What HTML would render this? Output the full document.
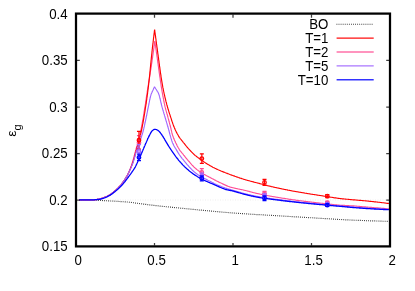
<!DOCTYPE html>
<html><head><meta charset="utf-8"><title>chart</title>
<style>html,body{margin:0;padding:0;background:#fff;}body{width:415px;height:291px;position:relative;overflow:hidden;font-family:"Liberation Sans",sans-serif;}</style></head>
<body>
<svg width="415" height="291" viewBox="0 0 415 291" style="position:absolute;left:0;top:0;will-change:transform;font-family:'Liberation Sans',sans-serif">
<rect width="415" height="291" fill="#fff"/>
<path d="M100,200 H388" stroke="#000" stroke-opacity="0.07" stroke-width="1" stroke-dasharray="1 1.5" fill="none"/>
<path d="M79.3,199.9 L80.8,199.9 L82.3,199.9 L83.8,199.9 L85.3,199.9 L86.8,199.9 L88.3,200.0 L89.8,200.0 L91.3,200.0 L92.8,200.0 L94.3,200.1 L95.8,200.2 L97.3,200.3 L98.8,200.4 L100.3,200.4 L101.8,200.5 L103.3,200.6 L104.8,200.7 L106.3,200.7 L107.8,200.8 L109.3,200.9 L110.8,201.0 L112.3,201.0 L113.8,201.1 L115.3,201.2 L116.8,201.3 L118.3,201.4 L119.8,201.5 L121.3,201.6 L122.8,201.7 L124.3,201.8 L125.7,201.9 L127.2,202.0 L128.7,202.1 L130.2,202.3 L131.7,202.5 L133.2,202.7 L134.7,202.9 L136.2,203.1 L137.7,203.3 L139.1,203.5 L140.6,203.7 L142.1,203.9 L143.6,204.1 L145.1,204.3 L146.6,204.5 L148.1,204.7 L149.6,204.9 L151.0,205.1 L152.5,205.2 L154.0,205.4 L155.5,205.6 L157.0,205.7 L158.5,205.9 L160.0,206.1 L161.5,206.2 L163.0,206.4 L164.5,206.5 L166.0,206.7 L167.5,206.8 L168.9,207.0 L170.4,207.1 L171.9,207.3 L173.4,207.4 L174.9,207.6 L176.4,207.7 L177.9,207.9 L179.4,208.0 L180.9,208.2 L182.4,208.3 L183.9,208.5 L185.4,208.6 L186.9,208.8 L188.3,208.9 L189.8,209.1 L191.3,209.2 L192.8,209.4 L194.3,209.5 L195.8,209.7 L197.3,209.8 L198.8,210.0 L200.3,210.1 L201.8,210.2 L203.3,210.4 L204.8,210.5 L206.3,210.7 L207.8,210.8 L209.3,210.9 L210.7,211.1 L212.2,211.2 L213.7,211.3 L215.2,211.5 L216.7,211.6 L218.2,211.7 L219.7,211.9 L221.2,212.0 L222.7,212.1 L224.2,212.3 L225.7,212.4 L227.2,212.5 L228.7,212.6 L230.2,212.8 L231.7,212.9 L233.2,213.0 L234.7,213.1 L236.2,213.2 L237.7,213.3 L239.1,213.4 L240.6,213.5 L242.1,213.6 L243.6,213.7 L245.1,213.8 L246.6,213.9 L248.1,214.0 L249.6,214.1 L251.1,214.2 L252.6,214.3 L254.1,214.4 L255.6,214.5 L257.1,214.6 L258.6,214.6 L260.1,214.7 L261.6,214.8 L263.1,214.9 L264.6,215.0 L266.1,215.1 L267.6,215.2 L269.1,215.2 L270.6,215.3 L272.1,215.4 L273.6,215.5 L275.1,215.6 L276.6,215.7 L278.1,215.8 L279.6,215.9 L281.1,216.0 L282.6,216.0 L284.1,216.1 L285.6,216.2 L287.1,216.3 L288.6,216.4 L290.1,216.5 L291.6,216.6 L293.0,216.7 L294.5,216.8 L296.0,216.8 L297.5,216.9 L299.0,217.0 L300.5,217.1 L302.0,217.2 L303.5,217.3 L305.0,217.4 L306.5,217.5 L308.0,217.6 L309.5,217.7 L311.0,217.7 L312.5,217.8 L314.0,217.9 L315.5,218.0 L317.0,218.1 L318.5,218.2 L320.0,218.3 L321.5,218.4 L323.0,218.5 L324.5,218.6 L326.0,218.6 L327.5,218.7 L329.0,218.8 L330.5,218.9 L332.0,219.0 L333.5,219.1 L335.0,219.2 L336.5,219.3 L338.0,219.4 L339.5,219.5 L341.0,219.5 L342.5,219.6 L344.0,219.7 L345.5,219.8 L347.0,219.8 L348.5,219.9 L350.0,220.0 L351.5,220.1 L352.9,220.1 L354.4,220.2 L355.9,220.2 L357.4,220.3 L358.9,220.4 L360.4,220.4 L361.9,220.5 L363.4,220.5 L364.9,220.6 L366.4,220.7 L367.9,220.7 L369.4,220.8 L370.9,220.8 L372.4,220.9 L373.9,220.9 L375.4,220.9 L376.9,221.0 L378.4,221.0 L379.9,221.1 L381.4,221.1 L382.9,221.2 L384.4,221.2 L385.9,221.2 L387.4,221.3 L388.5,221.3" stroke="#000" stroke-opacity="0.85" stroke-width="1.15" stroke-dasharray="0.85 1.22" fill="none"/>
<path d="M79.3,199.9 L79.9,199.9 L80.5,199.9 L81.1,199.9 L81.7,199.9 L82.3,199.9 L82.9,199.9 L83.5,199.9 L84.1,199.9 L84.7,199.9 L85.3,199.9 L85.9,199.9 L86.5,199.9 L87.1,199.9 L87.7,199.9 L88.3,199.9 L88.9,199.9 L89.5,199.9 L90.1,199.9 L90.7,199.9 L91.3,199.9 L91.9,199.8 L92.5,199.8 L93.1,199.8 L93.7,199.8 L94.3,199.7 L94.9,199.7 L95.5,199.6 L96.1,199.6 L96.7,199.5 L97.3,199.4 L97.9,199.3 L98.5,199.2 L99.1,199.1 L99.6,199.0 L100.2,198.8 L100.8,198.6 L101.4,198.4 L101.9,198.2 L102.5,198.0 L103.0,197.8 L103.6,197.6 L104.2,197.4 L104.7,197.2 L105.3,197.0 L105.9,196.8 L106.4,196.5 L107.0,196.3 L107.5,196.1 L108.1,195.8 L108.6,195.6 L109.1,195.3 L109.7,195.0 L110.2,194.7 L110.7,194.4 L111.1,194.0 L111.6,193.7 L112.1,193.3 L112.6,192.9 L113.1,192.5 L113.5,192.1 L114.0,191.7 L114.4,191.3 L114.9,191.0 L115.3,190.6 L115.8,190.2 L116.2,189.8 L116.7,189.4 L117.1,188.9 L117.6,188.5 L118.0,188.1 L118.4,187.7 L118.8,187.2 L119.3,186.8 L119.7,186.4 L120.1,185.9 L120.5,185.5 L120.9,185.0 L121.2,184.6 L121.6,184.1 L122.0,183.6 L122.3,183.1 L122.7,182.7 L123.0,182.2 L123.4,181.7 L123.7,181.2 L124.1,180.7 L124.4,180.2 L124.7,179.7 L125.1,179.2 L125.4,178.7 L125.7,178.2 L126.0,177.6 L126.3,177.1 L126.6,176.6 L126.9,176.1 L127.2,175.5 L127.5,175.0 L127.8,174.5 L128.0,174.0 L128.3,173.4 L128.5,172.9 L128.8,172.3 L129.0,171.8 L129.2,171.2 L129.5,170.7 L129.7,170.1 L129.9,169.5 L130.1,169.0 L130.3,168.4 L130.6,167.9 L130.8,167.3 L131.0,166.7 L131.2,166.2 L131.4,165.6 L131.6,165.0 L131.8,164.5 L131.9,163.9 L132.1,163.3 L132.3,162.7 L132.5,162.2 L132.6,161.6 L132.8,161.0 L133.0,160.4 L133.1,159.9 L133.3,159.3 L133.5,158.7 L133.6,158.1 L133.8,157.6 L133.9,157.0 L134.1,156.4 L134.3,155.8 L134.4,155.2 L134.6,154.7 L134.7,154.1 L134.9,153.5 L135.0,152.9 L135.2,152.3 L135.3,151.8 L135.5,151.2 L135.6,150.6 L135.8,150.0 L136.0,149.4 L136.1,148.9 L136.3,148.3 L136.4,147.7 L136.6,147.1 L136.7,146.5 L136.9,146.0 L137.1,145.4 L137.2,144.8 L137.4,144.2 L137.6,143.6 L137.7,143.1 L137.9,142.5 L138.0,141.9 L138.2,141.3 L138.3,140.7 L138.5,140.2 L138.7,139.6 L138.8,139.0 L139.0,138.4 L139.1,137.8 L139.3,137.3 L139.4,136.7 L139.6,136.1 L139.7,135.5 L139.8,134.9 L140.0,134.4 L140.1,133.8 L140.2,133.2 L140.4,132.6 L140.5,132.0 L140.6,131.4 L140.7,130.8 L140.9,130.3 L141.0,129.7 L141.1,129.1 L141.2,128.5 L141.3,127.9 L141.5,127.3 L141.6,126.7 L141.7,126.1 L141.8,125.6 L141.9,125.0 L142.0,124.4 L142.1,123.8 L142.2,123.2 L142.3,122.6 L142.4,122.0 L142.5,121.4 L142.7,120.8 L142.8,120.2 L142.9,119.6 L143.0,119.1 L143.1,118.5 L143.2,117.9 L143.3,117.3 L143.4,116.7 L143.5,116.1 L143.6,115.5 L143.7,114.9 L143.8,114.3 L143.9,113.7 L144.0,113.1 L144.0,112.5 L144.1,111.9 L144.2,111.4 L144.3,110.8 L144.4,110.2 L144.5,109.6 L144.6,109.0 L144.7,108.4 L144.8,107.8 L144.9,107.2 L145.0,106.6 L145.1,106.0 L145.2,105.4 L145.3,104.8 L145.4,104.2 L145.5,103.7 L145.6,103.1 L145.6,102.5 L145.7,101.9 L145.8,101.3 L145.9,100.7 L146.0,100.1 L146.1,99.5 L146.2,98.9 L146.3,98.3 L146.3,97.7 L146.4,97.1 L146.5,96.5 L146.6,95.9 L146.7,95.3 L146.8,94.7 L146.9,94.2 L147.0,93.6 L147.1,93.0 L147.2,92.4 L147.2,91.8 L147.3,91.2 L147.4,90.6 L147.5,90.0 L147.6,89.4 L147.7,88.8 L147.8,88.2 L147.9,87.6 L148.0,87.0 L148.1,86.4 L148.2,85.9 L148.3,85.3 L148.4,84.7 L148.5,84.1 L148.5,83.5 L148.6,82.9 L148.7,82.3 L148.8,81.7 L148.9,81.1 L149.0,80.5 L149.1,79.9 L149.2,79.3 L149.3,78.7 L149.4,78.2 L149.5,77.6 L149.6,77.0 L149.7,76.4 L149.8,75.8 L149.9,75.2 L150.0,74.6 L150.1,74.0 L150.2,73.4 L150.2,72.8 L150.3,72.2 L150.4,71.6 L150.5,71.0 L150.6,70.4 L150.7,69.9 L150.8,69.3 L150.9,68.7 L151.0,68.1 L151.1,67.5 L151.2,66.9 L151.3,66.3 L151.3,65.7 L151.4,65.1 L151.5,64.5 L151.6,63.9 L151.7,63.3 L151.8,62.7 L151.9,62.1 L152.0,61.5 L152.0,61.0 L152.1,60.4 L152.2,59.8 L152.3,59.2 L152.4,58.6 L152.5,58.0 L152.6,57.4 L152.6,56.8 L152.7,56.2 L152.8,55.6 L152.9,55.0 L153.0,54.4 L153.1,53.8 L153.1,53.2 L153.2,52.6 L153.3,52.0 L153.4,51.4 L153.5,50.9 L153.6,50.3 L153.6,49.7 L153.7,49.1 L153.8,48.5 L153.9,47.9 L154.0,47.3 L154.0,46.7 L154.1,46.1 L154.2,45.5 L154.3,44.9 L154.4,44.3 L154.4,43.7 L154.5,43.1 L154.6,42.5 L154.7,41.9 L154.8,41.3 L154.8,41.0 M154.8,41.0 L154.9,41.6 L155.0,42.2 L155.1,42.8 L155.1,43.4 L155.2,44.0 L155.3,44.6 L155.4,45.2 L155.5,45.8 L155.6,46.3 L155.7,46.9 L155.7,47.5 L155.8,48.1 L155.9,48.7 L156.0,49.3 L156.1,49.9 L156.2,50.5 L156.3,51.1 L156.3,51.7 L156.4,52.3 L156.5,52.9 L156.6,53.5 L156.7,54.1 L156.8,54.7 L156.8,55.3 L156.9,55.8 L157.0,56.4 L157.1,57.0 L157.2,57.6 L157.3,58.2 L157.3,58.8 L157.4,59.4 L157.5,60.0 L157.6,60.6 L157.7,61.2 L157.7,61.8 L157.8,62.4 L157.9,63.0 L158.0,63.6 L158.1,64.2 L158.2,64.8 L158.2,65.4 L158.3,66.0 L158.4,66.5 L158.5,67.1 L158.6,67.7 L158.6,68.3 L158.7,68.9 L158.8,69.5 L158.9,70.1 L159.0,70.7 L159.1,71.3 L159.1,71.9 L159.2,72.5 L159.3,73.1 L159.4,73.7 L159.5,74.3 L159.6,74.9 L159.6,75.5 L159.7,76.1 L159.8,76.6 L159.9,77.2 L160.0,77.8 L160.1,78.4 L160.2,79.0 L160.2,79.6 L160.3,80.2 L160.4,80.8 L160.5,81.4 L160.6,82.0 L160.7,82.6 L160.8,83.2 L160.9,83.8 L161.0,84.4 L161.1,85.0 L161.1,85.6 L161.2,86.1 L161.3,86.7 L161.4,87.3 L161.5,87.9 L161.6,88.5 L161.7,89.1 L161.8,89.7 L161.9,90.3 L162.0,90.9 L162.1,91.5 L162.2,92.1 L162.3,92.7 L162.4,93.2 L162.5,93.8 L162.6,94.4 L162.7,95.0 L162.8,95.6 L162.9,96.2 L163.0,96.8 L163.2,97.4 L163.3,98.0 L163.4,98.6 L163.5,99.2 L163.6,99.7 L163.7,100.3 L163.8,100.9 L163.9,101.5 L164.1,102.1 L164.2,102.7 L164.3,103.3 L164.4,103.9 L164.6,104.4 L164.7,105.0 L164.8,105.6 L164.9,106.2 L165.1,106.8 L165.2,107.4 L165.4,107.9 L165.5,108.5 L165.7,109.1 L165.8,109.7 L166.0,110.3 L166.2,110.8 L166.3,111.4 L166.5,112.0 L166.6,112.6 L166.8,113.2 L167.0,113.7 L167.1,114.3 L167.3,114.9 L167.5,115.5 L167.6,116.0 L167.8,116.6 L167.9,117.2 L168.1,117.8 L168.2,118.4 L168.4,118.9 L168.6,119.5 L168.7,120.1 L168.9,120.7 L169.0,121.3 L169.2,121.8 L169.3,122.4 L169.5,123.0 L169.6,123.6 L169.8,124.2 L170.0,124.7 L170.1,125.3 L170.3,125.9 L170.4,126.5 L170.6,127.1 L170.7,127.6 L170.9,128.2 L171.0,128.8 L171.1,129.4 L171.3,130.0 L171.4,130.6 L171.5,131.2 L171.7,131.7 L171.8,132.3 L171.9,132.9 L172.1,133.5 L172.2,134.1 L172.4,134.6 L172.6,135.2 L172.8,135.8 L173.0,136.3 L173.2,136.9 L173.4,137.5 L173.6,138.0 L173.8,138.6 L174.1,139.1 L174.3,139.7 L174.6,140.2 L174.8,140.8 L175.1,141.3 L175.3,141.9 L175.6,142.4 L175.8,143.0 L176.1,143.5 L176.4,144.0 L176.6,144.6 L176.9,145.1 L177.1,145.7 L177.4,146.2 L177.7,146.7 L178.0,147.3 L178.3,147.8 L178.6,148.3 L178.9,148.8 L179.2,149.3 L179.5,149.8 L179.9,150.3 L180.2,150.8 L180.6,151.3 L181.0,151.7 L181.3,152.2 L181.7,152.7 L182.1,153.1 L182.5,153.6 L182.9,154.0 L183.3,154.5 L183.6,155.0 L184.0,155.5 L184.4,155.9 L184.8,156.4 L185.1,156.9 L185.5,157.3 L185.9,157.8 L186.3,158.3 L186.6,158.7 L187.0,159.2 L187.4,159.7 L187.8,160.1 L188.2,160.6 L188.6,161.0 L189.0,161.5 L189.4,161.9 L189.8,162.4 L190.2,162.8 L190.6,163.3 L190.9,163.7 L191.3,164.2 L191.7,164.6 L192.1,165.1 L192.6,165.5 L193.0,166.0 L193.4,166.4 L193.8,166.8 L194.2,167.2 L194.7,167.6 L195.1,168.0 L195.6,168.4 L196.0,168.8 L196.5,169.2 L197.0,169.6 L197.4,169.9 L197.9,170.3 L198.4,170.7 L198.9,171.0 L199.4,171.4 L199.9,171.7 L200.4,172.0 L200.9,172.4 L201.4,172.7 L201.9,173.0 L202.4,173.3 L202.9,173.6 L203.4,173.9 L203.9,174.2 L204.5,174.5 L205.0,174.8 L205.5,175.1 L206.1,175.4 L206.6,175.7 L207.1,175.9 L207.7,176.2 L208.2,176.5 L208.7,176.8 L209.3,177.1 L209.8,177.3 L210.3,177.6 L210.9,177.9 L211.4,178.2 L211.9,178.5 L212.4,178.7 L213.0,179.0 L213.5,179.3 L214.0,179.6 L214.6,179.9 L215.1,180.1 L215.6,180.4 L216.2,180.7 L216.7,181.0 L217.2,181.2 L217.8,181.5 L218.3,181.8 L218.8,182.1 L219.4,182.3 L219.9,182.6 L220.5,182.8 L221.0,183.1 L221.5,183.3 L222.1,183.6 L222.6,183.9 L223.2,184.1 L223.7,184.4 L224.3,184.6 L224.8,184.9 L225.4,185.1 L225.9,185.4 L226.5,185.6 L227.0,185.9 L227.6,186.1 L228.1,186.3 L228.7,186.5 L229.3,186.7 L229.8,186.9 L230.4,187.1 L231.0,187.2 L231.5,187.4 L232.1,187.5 L232.7,187.7 L233.3,187.8 L233.8,188.0 L234.4,188.1 L235.0,188.3 L235.6,188.4 L236.2,188.5 L236.8,188.6 L237.4,188.8 L237.9,188.9 L238.5,189.0 L239.1,189.1 L239.7,189.2 L240.3,189.4 L240.9,189.5 L241.5,189.6 L242.1,189.7 L242.7,189.8 L243.3,190.0 L243.8,190.1 L244.4,190.2 L245.0,190.4 L245.6,190.5 L246.2,190.7 L246.8,190.8 L247.3,191.0 L247.9,191.1 L248.5,191.3 L249.1,191.4 L249.7,191.6 L250.2,191.7 L250.8,191.9 L251.4,192.0 L252.0,192.2 L252.6,192.4 L253.1,192.5 L253.7,192.7 L254.3,192.8 L254.9,193.0 L255.5,193.1 L256.1,193.2 L256.6,193.4 L257.2,193.5 L257.8,193.6 L258.4,193.8 L259.0,193.9 L259.6,194.0 L260.2,194.2 L260.7,194.3 L261.3,194.4 L261.9,194.5 L262.5,194.6 L263.1,194.8 L263.7,194.9 L264.3,195.0 L264.9,195.1 L265.4,195.2 L266.0,195.3 L266.6,195.4 L267.2,195.5 L267.8,195.7 L268.4,195.8 L269.0,195.9 L269.6,196.0 L270.2,196.1 L270.8,196.2 L271.4,196.3 L271.9,196.4 L272.5,196.5 L273.1,196.6 L273.7,196.7 L274.3,196.8 L274.9,196.9 L275.5,197.0 L276.1,197.1 L276.7,197.2 L277.3,197.3 L277.9,197.4 L278.4,197.5 L279.0,197.6 L279.6,197.7 L280.2,197.8 L280.8,197.9 L281.4,198.0 L282.0,198.1 L282.6,198.2 L283.2,198.3 L283.8,198.4 L284.4,198.4 L285.0,198.5 L285.6,198.6 L286.2,198.7 L286.7,198.8 L287.3,198.9 L287.9,199.0 L288.5,199.1 L289.1,199.2 L289.7,199.3 L290.3,199.3 L290.9,199.4 L291.5,199.5 L292.1,199.6 L292.7,199.7 L293.3,199.8 L293.9,199.9 L294.5,199.9 L295.1,200.0 L295.7,200.1 L296.2,200.2 L296.8,200.3 L297.4,200.3 L298.0,200.4 L298.6,200.5 L299.2,200.6 L299.8,200.7 L300.4,200.7 L301.0,200.8 L301.6,200.9 L302.2,201.0 L302.8,201.0 L303.4,201.1 L304.0,201.2 L304.6,201.3 L305.2,201.3 L305.8,201.4 L306.4,201.5 L307.0,201.6 L307.6,201.6 L308.1,201.7 L308.7,201.8 L309.3,201.9 L309.9,201.9 L310.5,202.0 L311.1,202.1 L311.7,202.1 L312.3,202.2 L312.9,202.3 L313.5,202.4 L314.1,202.4 L314.7,202.5 L315.3,202.6 L315.9,202.6 L316.5,202.7 L317.1,202.8 L317.7,202.8 L318.3,202.9 L318.9,203.0 L319.5,203.0 L320.1,203.1 L320.7,203.2 L321.3,203.2 L321.9,203.3 L322.5,203.4 L323.1,203.4 L323.6,203.5 L324.2,203.6 L324.8,203.6 L325.4,203.7 L326.0,203.8 L326.6,203.8 L327.2,203.9 L327.8,204.0 L328.4,204.0 L329.0,204.1 L329.6,204.2 L330.2,204.2 L330.8,204.3 L331.4,204.4 L332.0,204.4 L332.6,204.5 L333.2,204.6 L333.8,204.6 L334.4,204.7 L335.0,204.8 L335.6,204.8 L336.2,204.9 L336.8,204.9 L337.4,205.0 L338.0,205.0 L338.6,205.1 L339.2,205.1 L339.8,205.2 L340.4,205.2 L341.0,205.3 L341.6,205.3 L342.2,205.3 L342.8,205.4 L343.4,205.4 L344.0,205.4 L344.6,205.4 L345.2,205.5 L345.8,205.5 L346.4,205.5 L347.0,205.5 L347.6,205.6 L348.2,205.6 L348.8,205.6 L349.4,205.7 L350.0,205.7 L350.5,205.7 L351.1,205.7 L351.7,205.8 L352.3,205.8 L352.9,205.9 L353.5,205.9 L354.1,205.9 L354.7,206.0 L355.3,206.0 L355.9,206.1 L356.5,206.1 L357.1,206.2 L357.7,206.2 L358.3,206.3 L358.9,206.4 L359.5,206.4 L360.1,206.5 L360.7,206.5 L361.3,206.6 L361.9,206.6 L362.5,206.7 L363.1,206.7 L363.7,206.8 L364.3,206.8 L364.9,206.9 L365.5,206.9 L366.1,207.0 L366.7,207.0 L367.3,207.1 L367.9,207.1 L368.5,207.2 L369.1,207.2 L369.7,207.3 L370.3,207.3 L370.9,207.4 L371.5,207.4 L372.1,207.5 L372.7,207.5 L373.3,207.6 L373.9,207.6 L374.5,207.7 L375.1,207.7 L375.7,207.8 L376.3,207.8 L376.9,207.9 L377.5,207.9 L378.1,207.9 L378.7,208.0 L379.3,208.0 L379.9,208.1 L380.5,208.1 L381.0,208.2 L381.6,208.2 L382.2,208.3 L382.8,208.3 L383.4,208.4 L384.0,208.4 L384.6,208.5 L385.2,208.5 L385.8,208.6 L386.4,208.6 L387.0,208.7 L387.6,208.7 L388.2,208.7 L388.8,208.8 L388.9,208.8" stroke="#ff4d94" stroke-width="1.15" fill="none" stroke-linejoin="miter" stroke-miterlimit="10"/>
<path d="M79.3,199.9 L79.9,199.9 L80.5,199.9 L81.1,199.9 L81.7,199.9 L82.3,199.9 L82.9,199.9 L83.5,199.9 L84.1,199.9 L84.7,199.9 L85.3,199.9 L85.9,199.9 L86.5,199.9 L87.1,199.9 L87.7,199.9 L88.3,199.9 L88.9,199.9 L89.5,199.9 L90.1,199.9 L90.7,199.9 L91.3,199.9 L91.9,199.8 L92.5,199.8 L93.1,199.8 L93.7,199.8 L94.3,199.7 L94.9,199.7 L95.5,199.6 L96.1,199.6 L96.7,199.5 L97.3,199.4 L97.9,199.3 L98.5,199.2 L99.1,199.1 L99.6,199.0 L100.2,198.8 L100.8,198.6 L101.4,198.4 L101.9,198.2 L102.5,198.0 L103.0,197.8 L103.6,197.6 L104.2,197.4 L104.7,197.2 L105.3,197.0 L105.9,196.8 L106.4,196.5 L107.0,196.3 L107.5,196.1 L108.1,195.8 L108.6,195.6 L109.1,195.3 L109.7,195.0 L110.2,194.7 L110.7,194.4 L111.1,194.0 L111.6,193.7 L112.1,193.3 L112.6,192.9 L113.1,192.5 L113.5,192.1 L114.0,191.7 L114.4,191.3 L114.9,191.0 L115.3,190.6 L115.8,190.2 L116.2,189.8 L116.7,189.4 L117.1,188.9 L117.6,188.5 L118.0,188.1 L118.4,187.7 L118.8,187.2 L119.3,186.8 L119.7,186.4 L120.1,185.9 L120.5,185.5 L120.9,185.0 L121.2,184.6 L121.6,184.1 L122.0,183.6 L122.3,183.1 L122.7,182.7 L123.0,182.2 L123.4,181.7 L123.7,181.2 L124.1,180.7 L124.4,180.2 L124.7,179.7 L125.0,179.2 L125.4,178.7 L125.7,178.2 L126.0,177.6 L126.3,177.1 L126.6,176.6 L126.9,176.1 L127.2,175.5 L127.5,175.0 L127.8,174.5 L128.0,174.0 L128.3,173.4 L128.6,172.9 L128.8,172.3 L129.1,171.8 L129.3,171.2 L129.6,170.7 L129.8,170.1 L130.0,169.6 L130.3,169.0 L130.5,168.5 L130.7,167.9 L131.0,167.4 L131.2,166.8 L131.4,166.3 L131.7,165.7 L131.9,165.2 L132.1,164.6 L132.3,164.0 L132.5,163.5 L132.7,162.9 L132.9,162.3 L133.0,161.8 L133.2,161.2 L133.4,160.6 L133.6,160.0 L133.8,159.5 L133.9,158.9 L134.1,158.3 L134.3,157.7 L134.4,157.2 L134.6,156.6 L134.8,156.0 L134.9,155.4 L135.1,154.8 L135.2,154.3 L135.4,153.7 L135.5,153.1 L135.7,152.5 L135.9,151.9 L136.0,151.4 L136.2,150.8 L136.3,150.2 L136.5,149.6 L136.7,149.1 L136.8,148.5 L137.0,147.9 L137.2,147.3 L137.3,146.7 L137.5,146.2 L137.6,145.6 L137.8,145.0 L138.0,144.4 L138.1,143.9 L138.3,143.3 L138.5,142.7 L138.6,142.1 L138.8,141.5 L138.9,141.0 L139.1,140.4 L139.2,139.8 L139.4,139.2 L139.6,138.6 L139.7,138.1 L139.9,137.5 L140.0,136.9 L140.1,136.3 L140.3,135.7 L140.4,135.1 L140.6,134.6 L140.7,134.0 L140.8,133.4 L141.0,132.8 L141.1,132.2 L141.2,131.6 L141.4,131.1 L141.5,130.5 L141.6,129.9 L141.7,129.3 L141.8,128.7 L142.0,128.1 L142.1,127.5 L142.2,126.9 L142.3,126.4 L142.4,125.8 L142.5,125.2 L142.6,124.6 L142.7,124.0 L142.9,123.4 L143.0,122.8 L143.1,122.2 L143.2,121.6 L143.3,121.1 L143.4,120.5 L143.5,119.9 L143.6,119.3 L143.7,118.7 L143.8,118.1 L143.9,117.5 L144.0,116.9 L144.1,116.3 L144.2,115.7 L144.3,115.1 L144.4,114.5 L144.5,113.9 L144.6,113.4 L144.7,112.8 L144.8,112.2 L144.9,111.6 L145.0,111.0 L145.1,110.4 L145.2,109.8 L145.2,109.2 L145.3,108.6 L145.4,108.0 L145.5,107.4 L145.6,106.8 L145.7,106.2 L145.8,105.6 L145.9,105.1 L146.0,104.5 L146.1,103.9 L146.2,103.3 L146.3,102.7 L146.3,102.1 L146.4,101.5 L146.5,100.9 L146.6,100.3 L146.7,99.7 L146.8,99.1 L146.8,98.5 L146.9,97.9 L147.0,97.3 L147.1,96.7 L147.2,96.1 L147.2,95.5 L147.3,95.0 L147.4,94.4 L147.5,93.8 L147.6,93.2 L147.6,92.6 L147.7,92.0 L147.8,91.4 L147.9,90.8 L147.9,90.2 L148.0,89.6 L148.1,89.0 L148.2,88.4 L148.2,87.8 L148.3,87.2 L148.4,86.6 L148.5,86.0 L148.5,85.4 L148.6,84.8 L148.7,84.2 L148.7,83.6 L148.8,83.0 L148.9,82.4 L148.9,81.9 L149.0,81.3 L149.1,80.7 L149.1,80.1 L149.2,79.5 L149.3,78.9 L149.3,78.3 L149.4,77.7 L149.5,77.1 L149.5,76.5 L149.6,75.9 L149.6,75.3 L149.7,74.7 L149.8,74.1 L149.8,73.5 L149.9,72.9 L149.9,72.3 L150.0,71.7 L150.1,71.1 L150.1,70.5 L150.2,69.9 L150.2,69.3 L150.3,68.7 L150.3,68.1 L150.4,67.5 L150.5,66.9 L150.5,66.3 L150.6,65.7 L150.6,65.1 L150.7,64.5 L150.7,63.9 L150.8,63.3 L150.9,62.7 L150.9,62.2 L151.0,61.6 L151.0,61.0 L151.1,60.4 L151.2,59.8 L151.2,59.2 L151.3,58.6 L151.3,58.0 L151.4,57.4 L151.5,56.8 L151.5,56.2 L151.6,55.6 L151.7,55.0 L151.7,54.4 L151.8,53.8 L151.9,53.2 L151.9,52.6 L152.0,52.0 L152.0,51.4 L152.1,50.8 L152.2,50.2 L152.2,49.6 L152.3,49.0 L152.4,48.4 L152.4,47.8 L152.5,47.2 L152.6,46.6 L152.6,46.0 L152.7,45.4 L152.8,44.9 L152.8,44.3 L152.9,43.7 L153.0,43.1 L153.1,42.5 L153.1,41.9 L153.2,41.3 L153.3,40.7 L153.3,40.1 L153.4,39.5 L153.5,38.9 L153.5,38.3 L153.6,37.7 L153.7,37.1 L153.8,36.5 L153.8,35.9 L153.9,35.3 L154.0,34.7 L154.0,34.1 L154.1,33.5 L154.2,32.9 L154.3,32.3 L154.3,31.7 L154.4,31.1 L154.5,30.5 L154.5,30.0 L154.6,29.5 M154.6,29.5 L154.7,30.1 L154.8,30.7 L154.8,31.3 L154.9,31.9 L155.0,32.5 L155.1,33.1 L155.2,33.7 L155.2,34.3 L155.3,34.9 L155.4,35.4 L155.5,36.0 L155.6,36.6 L155.6,37.2 L155.7,37.8 L155.8,38.4 L155.9,39.0 L156.0,39.6 L156.0,40.2 L156.1,40.8 L156.2,41.4 L156.3,42.0 L156.4,42.6 L156.4,43.2 L156.5,43.8 L156.6,44.4 L156.7,45.0 L156.8,45.6 L156.8,46.1 L156.9,46.7 L157.0,47.3 L157.1,47.9 L157.2,48.5 L157.3,49.1 L157.3,49.7 L157.4,50.3 L157.5,50.9 L157.6,51.5 L157.7,52.1 L157.7,52.7 L157.8,53.3 L157.9,53.9 L158.0,54.5 L158.1,55.1 L158.2,55.7 L158.2,56.3 L158.3,56.8 L158.4,57.4 L158.5,58.0 L158.6,58.6 L158.6,59.2 L158.7,59.8 L158.8,60.4 L158.9,61.0 L159.0,61.6 L159.0,62.2 L159.1,62.8 L159.2,63.4 L159.3,64.0 L159.4,64.6 L159.4,65.2 L159.5,65.8 L159.6,66.4 L159.7,67.0 L159.8,67.6 L159.9,68.1 L159.9,68.7 L160.0,69.3 L160.1,69.9 L160.2,70.5 L160.3,71.1 L160.3,71.7 L160.4,72.3 L160.5,72.9 L160.6,73.5 L160.7,74.1 L160.8,74.7 L160.9,75.3 L161.0,75.9 L161.0,76.5 L161.1,77.1 L161.2,77.6 L161.3,78.2 L161.4,78.8 L161.5,79.4 L161.6,80.0 L161.7,80.6 L161.8,81.2 L161.9,81.8 L162.0,82.4 L162.1,83.0 L162.2,83.6 L162.3,84.2 L162.4,84.7 L162.5,85.3 L162.6,85.9 L162.7,86.5 L162.8,87.1 L162.9,87.7 L163.1,88.3 L163.2,88.9 L163.3,89.5 L163.4,90.1 L163.5,90.6 L163.6,91.2 L163.8,91.8 L163.9,92.4 L164.0,93.0 L164.1,93.6 L164.3,94.2 L164.4,94.8 L164.5,95.3 L164.7,95.9 L164.8,96.5 L164.9,97.1 L165.1,97.7 L165.2,98.3 L165.3,98.8 L165.5,99.4 L165.6,100.0 L165.8,100.6 L165.9,101.2 L166.1,101.8 L166.2,102.3 L166.4,102.9 L166.5,103.5 L166.7,104.1 L166.8,104.7 L167.0,105.2 L167.1,105.8 L167.3,106.4 L167.5,107.0 L167.6,107.5 L167.8,108.1 L168.0,108.7 L168.1,109.3 L168.3,109.8 L168.5,110.4 L168.7,111.0 L168.9,111.6 L169.0,112.1 L169.2,112.7 L169.4,113.3 L169.6,113.9 L169.8,114.4 L170.0,115.0 L170.2,115.6 L170.3,116.1 L170.5,116.7 L170.7,117.3 L170.9,117.8 L171.1,118.4 L171.3,119.0 L171.5,119.6 L171.6,120.1 L171.8,120.7 L172.0,121.3 L172.2,121.8 L172.4,122.4 L172.6,123.0 L172.8,123.6 L173.0,124.1 L173.2,124.7 L173.4,125.2 L173.6,125.8 L173.8,126.4 L174.1,126.9 L174.3,127.5 L174.5,128.0 L174.7,128.6 L175.0,129.1 L175.2,129.7 L175.5,130.2 L175.7,130.8 L176.0,131.3 L176.3,131.9 L176.5,132.4 L176.8,132.9 L177.1,133.5 L177.4,134.0 L177.7,134.5 L178.0,135.0 L178.3,135.5 L178.6,136.1 L178.9,136.6 L179.2,137.1 L179.5,137.6 L179.9,138.0 L180.2,138.5 L180.6,139.0 L181.0,139.5 L181.3,140.0 L181.7,140.4 L182.1,140.9 L182.5,141.4 L182.9,141.8 L183.2,142.3 L183.6,142.8 L184.0,143.2 L184.4,143.7 L184.7,144.2 L185.1,144.6 L185.5,145.1 L185.9,145.6 L186.3,146.0 L186.6,146.5 L187.0,147.0 L187.4,147.4 L187.8,147.9 L188.2,148.3 L188.6,148.8 L189.0,149.2 L189.4,149.7 L189.8,150.1 L190.2,150.5 L190.6,151.0 L191.0,151.4 L191.5,151.9 L191.9,152.3 L192.3,152.7 L192.7,153.1 L193.2,153.6 L193.6,154.0 L194.0,154.4 L194.5,154.8 L194.9,155.2 L195.4,155.6 L195.8,155.9 L196.3,156.3 L196.8,156.7 L197.3,157.0 L197.8,157.4 L198.2,157.7 L198.7,158.1 L199.2,158.4 L199.7,158.8 L200.2,159.2 L200.7,159.5 L201.1,159.9 L201.6,160.2 L202.1,160.6 L202.6,160.9 L203.1,161.3 L203.6,161.6 L204.1,162.0 L204.6,162.3 L205.1,162.6 L205.6,163.0 L206.1,163.3 L206.6,163.6 L207.1,163.9 L207.6,164.2 L208.1,164.5 L208.6,164.8 L209.2,165.1 L209.7,165.4 L210.2,165.7 L210.7,166.0 L211.3,166.3 L211.8,166.6 L212.3,166.9 L212.8,167.2 L213.4,167.5 L213.9,167.7 L214.5,168.0 L215.0,168.3 L215.5,168.5 L216.1,168.8 L216.6,169.1 L217.2,169.3 L217.7,169.6 L218.2,169.8 L218.8,170.0 L219.3,170.3 L219.9,170.5 L220.4,170.7 L221.0,171.0 L221.6,171.2 L222.1,171.4 L222.7,171.6 L223.2,171.9 L223.8,172.1 L224.4,172.3 L224.9,172.5 L225.5,172.7 L226.0,172.9 L226.6,173.2 L227.2,173.4 L227.7,173.6 L228.3,173.8 L228.8,174.0 L229.4,174.2 L230.0,174.5 L230.5,174.7 L231.1,174.9 L231.6,175.1 L232.2,175.3 L232.8,175.5 L233.3,175.7 L233.9,175.9 L234.5,176.1 L235.0,176.3 L235.6,176.5 L236.2,176.7 L236.7,176.9 L237.3,177.1 L237.9,177.3 L238.4,177.5 L239.0,177.7 L239.6,177.9 L240.1,178.1 L240.7,178.3 L241.3,178.4 L241.8,178.6 L242.4,178.8 L243.0,179.0 L243.6,179.2 L244.1,179.4 L244.7,179.5 L245.3,179.7 L245.9,179.9 L246.4,180.0 L247.0,180.2 L247.6,180.4 L248.2,180.5 L248.7,180.7 L249.3,180.8 L249.9,181.0 L250.5,181.2 L251.1,181.3 L251.6,181.5 L252.2,181.6 L252.8,181.8 L253.4,181.9 L254.0,182.1 L254.5,182.2 L255.1,182.4 L255.7,182.5 L256.3,182.7 L256.9,182.8 L257.5,183.0 L258.0,183.1 L258.6,183.3 L259.2,183.4 L259.8,183.6 L260.4,183.7 L260.9,183.9 L261.5,184.0 L262.1,184.2 L262.7,184.3 L263.3,184.5 L263.8,184.7 L264.4,184.8 L265.0,185.0 L265.6,185.1 L266.2,185.3 L266.7,185.4 L267.3,185.6 L267.9,185.7 L268.5,185.9 L269.1,186.0 L269.6,186.1 L270.2,186.3 L270.8,186.4 L271.4,186.6 L272.0,186.7 L272.6,186.8 L273.1,187.0 L273.7,187.1 L274.3,187.2 L274.9,187.4 L275.5,187.5 L276.1,187.6 L276.7,187.7 L277.2,187.9 L277.8,188.0 L278.4,188.1 L279.0,188.3 L279.6,188.4 L280.2,188.5 L280.8,188.6 L281.4,188.7 L281.9,188.9 L282.5,189.0 L283.1,189.1 L283.7,189.2 L284.3,189.4 L284.9,189.5 L285.5,189.6 L286.1,189.7 L286.6,189.8 L287.2,189.9 L287.8,190.1 L288.4,190.2 L289.0,190.3 L289.6,190.4 L290.2,190.5 L290.8,190.6 L291.4,190.7 L292.0,190.9 L292.5,191.0 L293.1,191.1 L293.7,191.2 L294.3,191.3 L294.9,191.4 L295.5,191.5 L296.1,191.6 L296.7,191.7 L297.3,191.8 L297.9,191.9 L298.4,192.0 L299.0,192.1 L299.6,192.2 L300.2,192.3 L300.8,192.4 L301.4,192.5 L302.0,192.6 L302.6,192.7 L303.2,192.8 L303.8,192.9 L304.4,193.0 L304.9,193.1 L305.5,193.2 L306.1,193.3 L306.7,193.4 L307.3,193.5 L307.9,193.6 L308.5,193.7 L309.1,193.8 L309.7,193.9 L310.3,194.0 L310.9,194.1 L311.5,194.2 L312.1,194.3 L312.7,194.4 L313.2,194.5 L313.8,194.5 L314.4,194.6 L315.0,194.7 L315.6,194.8 L316.2,194.9 L316.8,195.0 L317.4,195.1 L318.0,195.2 L318.6,195.3 L319.2,195.4 L319.8,195.5 L320.4,195.5 L321.0,195.6 L321.6,195.7 L322.1,195.8 L322.7,195.9 L323.3,196.0 L323.9,196.1 L324.5,196.2 L325.1,196.3 L325.7,196.4 L326.3,196.4 L326.9,196.5 L327.5,196.6 L328.1,196.7 L328.7,196.8 L329.3,196.9 L329.9,197.0 L330.4,197.1 L331.0,197.2 L331.6,197.3 L332.2,197.4 L332.8,197.5 L333.4,197.6 L334.0,197.7 L334.6,197.8 L335.2,197.8 L335.8,197.9 L336.4,198.0 L337.0,198.1 L337.6,198.2 L338.2,198.3 L338.8,198.3 L339.3,198.4 L339.9,198.5 L340.5,198.6 L341.1,198.6 L341.7,198.7 L342.3,198.8 L342.9,198.8 L343.5,198.9 L344.1,199.0 L344.7,199.0 L345.3,199.1 L345.9,199.1 L346.5,199.2 L347.1,199.2 L347.7,199.3 L348.3,199.4 L348.9,199.4 L349.5,199.5 L350.1,199.5 L350.7,199.6 L351.3,199.6 L351.9,199.7 L352.5,199.7 L353.1,199.8 L353.7,199.8 L354.3,199.9 L354.9,199.9 L355.5,200.0 L356.1,200.0 L356.7,200.1 L357.3,200.1 L357.9,200.2 L358.5,200.2 L359.1,200.3 L359.7,200.3 L360.3,200.4 L360.9,200.4 L361.5,200.5 L362.1,200.5 L362.6,200.6 L363.2,200.6 L363.8,200.7 L364.4,200.7 L365.0,200.8 L365.6,200.9 L366.2,200.9 L366.8,201.0 L367.4,201.0 L368.0,201.1 L368.6,201.1 L369.2,201.2 L369.8,201.3 L370.4,201.3 L371.0,201.4 L371.6,201.5 L372.2,201.5 L372.8,201.6 L373.4,201.6 L374.0,201.7 L374.6,201.8 L375.2,201.8 L375.8,201.9 L376.4,202.0 L377.0,202.0 L377.6,202.1 L378.2,202.2 L378.8,202.2 L379.4,202.3 L380.0,202.4 L380.5,202.5 L381.1,202.5 L381.7,202.6 L382.3,202.7 L382.9,202.7 L383.5,202.8 L384.1,202.9 L384.7,203.0 L385.3,203.0 L385.9,203.1 L386.5,203.2 L387.1,203.3 L387.7,203.3 L388.3,203.4 L388.9,203.5 L388.9,203.5" stroke="#ff0000" stroke-width="1.15" fill="none" stroke-linejoin="miter" stroke-miterlimit="10"/>
<path d="M79.3,199.9 L79.9,199.9 L80.5,199.9 L81.1,199.9 L81.7,199.9 L82.3,199.9 L82.9,199.9 L83.5,199.9 L84.1,199.9 L84.7,199.9 L85.3,199.9 L85.9,199.9 L86.5,199.9 L87.1,199.9 L87.7,199.9 L88.3,199.9 L88.9,199.9 L89.5,199.9 L90.1,199.9 L90.7,199.9 L91.3,199.9 L91.9,199.8 L92.5,199.8 L93.1,199.8 L93.7,199.8 L94.3,199.7 L94.9,199.7 L95.5,199.6 L96.1,199.6 L96.7,199.5 L97.3,199.4 L97.9,199.3 L98.5,199.2 L99.1,199.1 L99.6,199.0 L100.2,198.8 L100.8,198.6 L101.4,198.4 L101.9,198.2 L102.5,198.0 L103.0,197.8 L103.6,197.6 L104.2,197.4 L104.7,197.2 L105.3,197.0 L105.9,196.8 L106.4,196.5 L107.0,196.3 L107.5,196.1 L108.1,195.8 L108.6,195.6 L109.1,195.3 L109.7,195.0 L110.2,194.7 L110.7,194.4 L111.1,194.0 L111.6,193.7 L112.1,193.3 L112.6,192.9 L113.1,192.5 L113.5,192.1 L114.0,191.7 L114.4,191.3 L114.9,191.0 L115.3,190.6 L115.8,190.2 L116.2,189.8 L116.7,189.4 L117.1,188.9 L117.6,188.5 L118.0,188.1 L118.4,187.7 L118.8,187.2 L119.3,186.8 L119.7,186.4 L120.1,185.9 L120.5,185.5 L120.9,185.0 L121.2,184.6 L121.6,184.1 L122.0,183.6 L122.3,183.1 L122.7,182.7 L123.0,182.2 L123.4,181.7 L123.7,181.2 L124.1,180.7 L124.4,180.2 L124.7,179.7 L125.0,179.2 L125.4,178.7 L125.7,178.1 L126.0,177.6 L126.3,177.1 L126.6,176.6 L126.9,176.1 L127.2,175.5 L127.5,175.0 L127.7,174.5 L128.0,174.0 L128.3,173.4 L128.6,172.9 L128.8,172.3 L129.1,171.8 L129.3,171.3 L129.6,170.7 L129.8,170.2 L130.1,169.6 L130.3,169.1 L130.6,168.5 L130.8,168.0 L131.1,167.4 L131.3,166.9 L131.5,166.3 L131.8,165.8 L132.0,165.2 L132.2,164.7 L132.5,164.1 L132.7,163.5 L132.9,163.0 L133.1,162.4 L133.3,161.8 L133.4,161.3 L133.6,160.7 L133.8,160.1 L134.0,159.6 L134.1,159.0 L134.3,158.4 L134.5,157.8 L134.7,157.3 L134.8,156.7 L135.0,156.1 L135.2,155.5 L135.3,154.9 L135.5,154.4 L135.7,153.8 L135.8,153.2 L136.0,152.6 L136.2,152.1 L136.3,151.5 L136.5,150.9 L136.7,150.3 L136.9,149.8 L137.1,149.2 L137.3,148.6 L137.4,148.1 L137.6,147.5 L137.8,146.9 L138.0,146.4 L138.2,145.8 L138.4,145.2 L138.6,144.7 L138.8,144.1 L139.0,143.5 L139.3,143.0 L139.5,142.4 L139.7,141.8 L139.9,141.3 L140.1,140.7 L140.3,140.1 L140.5,139.6 L140.7,139.0 L140.9,138.4 L141.1,137.9 L141.3,137.3 L141.5,136.7 L141.6,136.2 L141.8,135.6 L142.0,135.0 L142.2,134.5 L142.4,133.9 L142.5,133.3 L142.7,132.7 L142.9,132.2 L143.0,131.6 L143.2,131.0 L143.3,130.4 L143.5,129.8 L143.6,129.3 L143.8,128.7 L143.9,128.1 L144.0,127.5 L144.2,126.9 L144.3,126.3 L144.4,125.8 L144.6,125.2 L144.7,124.6 L144.8,124.0 L144.9,123.4 L145.1,122.8 L145.2,122.2 L145.3,121.6 L145.5,121.1 L145.6,120.5 L145.7,119.9 L145.8,119.3 L145.9,118.7 L146.1,118.1 L146.2,117.5 L146.3,116.9 L146.4,116.4 L146.6,115.8 L146.7,115.2 L146.8,114.6 L146.9,114.0 L147.0,113.4 L147.1,112.8 L147.3,112.2 L147.4,111.7 L147.5,111.1 L147.6,110.5 L147.7,109.9 L147.8,109.3 L147.9,108.7 L148.1,108.1 L148.2,107.5 L148.3,106.9 L148.4,106.4 L148.5,105.8 L148.7,105.2 L148.8,104.6 L148.9,104.0 L149.0,103.4 L149.1,102.8 L149.3,102.2 L149.4,101.6 L149.5,101.0 L149.6,100.5 L149.7,99.9 L149.9,99.3 L150.0,98.7 L150.1,98.1 L150.3,97.5 L150.4,96.9 L150.5,96.4 L150.7,95.8 L150.9,95.2 L151.0,94.6 L151.2,94.1 L151.4,93.5 L151.7,93.0 L151.9,92.4 L152.2,91.9 L152.4,91.3 L152.7,90.8 L152.9,90.2 L153.2,89.7 L153.4,89.1 L153.6,88.6 L153.9,88.0 L154.1,87.5 L154.4,86.9 L154.5,86.7 M154.5,86.7 L154.8,87.2 L155.1,87.7 L155.4,88.2 L155.7,88.7 L156.1,89.3 L156.4,89.8 L156.7,90.3 L157.0,90.8 L157.3,91.3 L157.7,91.8 L158.0,92.3 L158.3,92.9 L158.5,93.4 L158.7,93.9 L158.9,94.5 L159.1,95.1 L159.3,95.6 L159.4,96.2 L159.6,96.8 L159.7,97.4 L159.9,98.0 L160.0,98.5 L160.2,99.1 L160.3,99.7 L160.4,100.3 L160.6,100.9 L160.7,101.5 L160.8,102.1 L161.0,102.7 L161.1,103.3 L161.3,103.8 L161.4,104.4 L161.5,105.0 L161.7,105.6 L161.8,106.2 L162.0,106.7 L162.2,107.3 L162.3,107.9 L162.5,108.5 L162.6,109.1 L162.8,109.6 L163.0,110.2 L163.1,110.8 L163.3,111.4 L163.5,111.9 L163.7,112.5 L163.8,113.1 L164.0,113.7 L164.2,114.2 L164.4,114.8 L164.5,115.4 L164.7,116.0 L164.9,116.5 L165.0,117.1 L165.2,117.7 L165.4,118.3 L165.5,118.8 L165.7,119.4 L165.9,120.0 L166.0,120.6 L166.2,121.1 L166.4,121.7 L166.6,122.3 L166.7,122.9 L166.9,123.4 L167.1,124.0 L167.2,124.6 L167.4,125.2 L167.6,125.7 L167.7,126.3 L167.9,126.9 L168.1,127.5 L168.2,128.1 L168.4,128.6 L168.5,129.2 L168.7,129.8 L168.9,130.4 L169.0,131.0 L169.2,131.5 L169.3,132.1 L169.5,132.7 L169.6,133.3 L169.8,133.8 L169.9,134.4 L170.1,135.0 L170.3,135.6 L170.4,136.2 L170.6,136.7 L170.8,137.3 L170.9,137.9 L171.1,138.5 L171.3,139.0 L171.5,139.6 L171.6,140.2 L171.8,140.8 L172.0,141.3 L172.2,141.9 L172.4,142.5 L172.6,143.0 L172.9,143.6 L173.1,144.1 L173.4,144.6 L173.7,145.2 L173.9,145.7 L174.2,146.2 L174.5,146.8 L174.8,147.3 L175.1,147.8 L175.4,148.3 L175.8,148.8 L176.1,149.3 L176.4,149.9 L176.7,150.4 L177.0,150.9 L177.3,151.4 L177.6,151.9 L177.9,152.4 L178.2,152.9 L178.6,153.5 L178.9,154.0 L179.2,154.5 L179.5,155.0 L179.9,155.5 L180.2,156.0 L180.6,156.4 L180.9,156.9 L181.3,157.4 L181.7,157.9 L182.0,158.3 L182.4,158.8 L182.8,159.2 L183.2,159.7 L183.6,160.2 L184.0,160.6 L184.3,161.1 L184.7,161.6 L185.1,162.0 L185.5,162.5 L185.8,163.0 L186.2,163.4 L186.6,163.9 L187.0,164.3 L187.4,164.8 L187.8,165.2 L188.2,165.7 L188.6,166.1 L189.0,166.6 L189.4,167.0 L189.8,167.5 L190.2,167.9 L190.6,168.3 L191.1,168.8 L191.5,169.2 L191.9,169.6 L192.3,170.1 L192.7,170.5 L193.2,170.9 L193.6,171.3 L194.1,171.7 L194.5,172.1 L195.0,172.5 L195.5,172.8 L195.9,173.2 L196.4,173.6 L196.9,173.9 L197.4,174.3 L197.9,174.6 L198.4,175.0 L198.9,175.3 L199.4,175.6 L199.9,175.9 L200.4,176.2 L201.0,176.5 L201.5,176.8 L202.0,177.1 L202.5,177.4 L203.1,177.7 L203.6,177.9 L204.1,178.2 L204.6,178.5 L205.2,178.8 L205.7,179.1 L206.2,179.4 L206.8,179.6 L207.3,179.9 L207.8,180.2 L208.4,180.5 L208.9,180.7 L209.4,181.0 L210.0,181.3 L210.5,181.6 L211.0,181.9 L211.6,182.1 L212.1,182.4 L212.6,182.7 L213.2,182.9 L213.7,183.2 L214.2,183.5 L214.8,183.7 L215.3,184.0 L215.9,184.2 L216.4,184.5 L217.0,184.7 L217.5,185.0 L218.1,185.2 L218.6,185.4 L219.2,185.7 L219.7,185.9 L220.3,186.1 L220.8,186.3 L221.4,186.6 L222.0,186.8 L222.5,187.0 L223.1,187.2 L223.6,187.4 L224.2,187.6 L224.8,187.8 L225.3,188.0 L225.9,188.2 L226.5,188.4 L227.0,188.6 L227.6,188.8 L228.2,189.0 L228.8,189.1 L229.3,189.3 L229.9,189.4 L230.5,189.6 L231.1,189.7 L231.7,189.9 L232.3,190.0 L232.8,190.2 L233.4,190.4 L234.0,190.5 L234.6,190.7 L235.1,190.9 L235.7,191.0 L236.3,191.2 L236.9,191.4 L237.4,191.5 L238.0,191.7 L238.6,191.9 L239.2,192.0 L239.7,192.2 L240.3,192.4 L240.9,192.6 L241.5,192.7 L242.0,192.9 L242.6,193.0 L243.2,193.2 L243.8,193.4 L244.4,193.5 L244.9,193.7 L245.5,193.8 L246.1,194.0 L246.7,194.1 L247.3,194.2 L247.9,194.4 L248.4,194.5 L249.0,194.7 L249.6,194.8 L250.2,194.9 L250.8,195.1 L251.4,195.2 L251.9,195.3 L252.5,195.5 L253.1,195.6 L253.7,195.7 L254.3,195.9 L254.9,196.0 L255.5,196.1 L256.1,196.2 L256.6,196.3 L257.2,196.4 L257.8,196.5 L258.4,196.6 L259.0,196.8 L259.6,196.9 L260.2,197.0 L260.8,197.1 L261.4,197.1 L262.0,197.2 L262.6,197.3 L263.1,197.4 L263.7,197.5 L264.3,197.6 L264.9,197.7 L265.5,197.8 L266.1,197.9 L266.7,198.0 L267.3,198.0 L267.9,198.1 L268.5,198.2 L269.1,198.3 L269.7,198.4 L270.3,198.5 L270.9,198.5 L271.5,198.6 L272.1,198.7 L272.7,198.8 L273.2,198.9 L273.8,199.0 L274.4,199.0 L275.0,199.1 L275.6,199.2 L276.2,199.3 L276.8,199.3 L277.4,199.4 L278.0,199.5 L278.6,199.6 L279.2,199.7 L279.8,199.7 L280.4,199.8 L281.0,199.9 L281.6,200.0 L282.2,200.0 L282.8,200.1 L283.4,200.2 L284.0,200.3 L284.6,200.3 L285.1,200.4 L285.7,200.5 L286.3,200.6 L286.9,200.6 L287.5,200.7 L288.1,200.8 L288.7,200.8 L289.3,200.9 L289.9,201.0 L290.5,201.1 L291.1,201.1 L291.7,201.2 L292.3,201.3 L292.9,201.3 L293.5,201.4 L294.1,201.5 L294.7,201.5 L295.3,201.6 L295.9,201.7 L296.5,201.7 L297.1,201.8 L297.7,201.9 L298.3,201.9 L298.9,202.0 L299.5,202.1 L300.1,202.1 L300.6,202.2 L301.2,202.2 L301.8,202.3 L302.4,202.4 L303.0,202.4 L303.6,202.5 L304.2,202.6 L304.8,202.6 L305.4,202.7 L306.0,202.7 L306.6,202.8 L307.2,202.9 L307.8,202.9 L308.4,203.0 L309.0,203.1 L309.6,203.1 L310.2,203.2 L310.8,203.2 L311.4,203.3 L312.0,203.3 L312.6,203.4 L313.2,203.5 L313.8,203.5 L314.4,203.6 L315.0,203.6 L315.6,203.7 L316.2,203.8 L316.8,203.8 L317.4,203.9 L318.0,203.9 L318.6,204.0 L319.2,204.0 L319.8,204.1 L320.4,204.2 L320.9,204.2 L321.5,204.3 L322.1,204.3 L322.7,204.4 L323.3,204.4 L323.9,204.5 L324.5,204.5 L325.1,204.6 L325.7,204.7 L326.3,204.7 L326.9,204.8 L327.5,204.8 L328.1,204.9 L328.7,204.9 L329.3,205.0 L329.9,205.0 L330.5,205.1 L331.1,205.1 L331.7,205.2 L332.3,205.3 L332.9,205.3 L333.5,205.4 L334.1,205.4 L334.7,205.5 L335.3,205.5 L335.9,205.6 L336.5,205.6 L337.1,205.7 L337.7,205.7 L338.3,205.8 L338.9,205.8 L339.5,205.9 L340.1,205.9 L340.7,206.0 L341.3,206.1 L341.9,206.1 L342.5,206.2 L343.1,206.2 L343.7,206.3 L344.3,206.3 L344.9,206.4 L345.5,206.4 L346.0,206.5 L346.6,206.5 L347.2,206.6 L347.8,206.6 L348.4,206.7 L349.0,206.7 L349.6,206.8 L350.2,206.8 L350.8,206.9 L351.4,206.9 L352.0,207.0 L352.6,207.0 L353.2,207.0 L353.8,207.1 L354.4,207.1 L355.0,207.2 L355.6,207.2 L356.2,207.3 L356.8,207.3 L357.4,207.4 L358.0,207.4 L358.6,207.5 L359.2,207.5 L359.8,207.6 L360.4,207.6 L361.0,207.7 L361.6,207.7 L362.2,207.7 L362.8,207.8 L363.4,207.8 L364.0,207.9 L364.6,207.9 L365.2,208.0 L365.8,208.0 L366.4,208.0 L367.0,208.1 L367.6,208.1 L368.2,208.2 L368.8,208.2 L369.4,208.2 L370.0,208.3 L370.6,208.3 L371.2,208.4 L371.8,208.4 L372.4,208.4 L373.0,208.5 L373.6,208.5 L374.2,208.6 L374.8,208.6 L375.4,208.6 L376.0,208.7 L376.6,208.7 L377.2,208.7 L377.8,208.8 L378.4,208.8 L379.0,208.8 L379.6,208.9 L380.2,208.9 L380.8,209.0 L381.4,209.0 L382.0,209.0 L382.6,209.1 L383.2,209.1 L383.8,209.1 L384.4,209.2 L385.0,209.2 L385.5,209.2 L386.1,209.3 L386.7,209.3 L387.3,209.3 L387.9,209.4 L388.5,209.4 L388.9,209.4" stroke="#a066ff" stroke-width="1.15" fill="none" stroke-linejoin="miter" stroke-miterlimit="10"/>
<path d="M79.3,199.9 L79.9,199.9 L80.5,199.9 L81.1,199.9 L81.7,199.9 L82.3,199.9 L82.9,199.9 L83.5,199.9 L84.1,199.9 L84.7,199.9 L85.3,199.9 L85.9,199.9 L86.5,199.9 L87.1,199.9 L87.7,199.9 L88.3,199.9 L88.9,199.9 L89.5,199.9 L90.1,199.9 L90.7,199.9 L91.3,199.9 L91.9,199.9 L92.5,199.9 L93.1,199.8 L93.7,199.8 L94.3,199.8 L94.9,199.7 L95.5,199.7 L96.1,199.6 L96.7,199.6 L97.3,199.5 L97.9,199.5 L98.5,199.4 L99.1,199.4 L99.7,199.3 L100.3,199.2 L100.9,199.0 L101.4,198.9 L102.0,198.7 L102.6,198.6 L103.2,198.4 L103.7,198.2 L104.3,198.0 L104.8,197.8 L105.4,197.5 L106.0,197.3 L106.5,197.0 L107.1,196.8 L107.6,196.5 L108.1,196.2 L108.7,195.9 L109.2,195.7 L109.7,195.4 L110.2,195.1 L110.7,194.7 L111.2,194.4 L111.7,194.1 L112.2,193.7 L112.7,193.4 L113.2,193.0 L113.6,192.6 L114.1,192.2 L114.6,191.9 L115.1,191.5 L115.5,191.1 L116.0,190.7 L116.4,190.4 L116.9,190.0 L117.4,189.6 L117.8,189.2 L118.3,188.8 L118.7,188.4 L119.1,188.0 L119.6,187.5 L120.0,187.1 L120.4,186.7 L120.9,186.3 L121.3,185.8 L121.7,185.4 L122.1,185.0 L122.5,184.5 L122.9,184.1 L123.3,183.6 L123.7,183.2 L124.0,182.7 L124.4,182.2 L124.8,181.8 L125.2,181.3 L125.5,180.8 L125.9,180.3 L126.3,179.9 L126.6,179.4 L127.0,178.9 L127.4,178.4 L127.7,177.9 L128.1,177.5 L128.4,177.0 L128.8,176.5 L129.1,176.0 L129.5,175.5 L129.8,175.0 L130.2,174.6 L130.5,174.1 L130.9,173.6 L131.2,173.1 L131.6,172.6 L131.9,172.1 L132.2,171.6 L132.6,171.1 L132.9,170.6 L133.3,170.1 L133.6,169.6 L133.9,169.1 L134.3,168.6 L134.6,168.1 L134.9,167.6 L135.2,167.1 L135.5,166.5 L135.7,166.0 L136.0,165.5 L136.3,164.9 L136.5,164.4 L136.8,163.8 L137.0,163.3 L137.3,162.7 L137.5,162.2 L137.8,161.6 L138.0,161.1 L138.2,160.6 L138.5,160.0 L138.8,159.5 L139.0,158.9 L139.3,158.4 L139.5,157.8 L139.8,157.3 L140.0,156.7 L140.3,156.2 L140.5,155.6 L140.8,155.1 L141.0,154.6 L141.3,154.0 L141.5,153.5 L141.7,152.9 L142.0,152.4 L142.2,151.8 L142.4,151.3 L142.7,150.7 L142.9,150.1 L143.1,149.6 L143.4,149.0 L143.6,148.5 L143.8,147.9 L144.1,147.4 L144.3,146.8 L144.5,146.3 L144.8,145.7 L145.0,145.2 L145.2,144.6 L145.5,144.1 L145.7,143.5 L146.0,143.0 L146.2,142.4 L146.4,141.9 L146.7,141.3 L146.9,140.8 L147.2,140.2 L147.4,139.7 L147.6,139.1 L147.9,138.6 L148.1,138.0 L148.4,137.5 L148.7,136.9 L148.9,136.4 L149.2,135.9 L149.4,135.3 L149.7,134.8 L150.0,134.3 L150.3,133.7 L150.6,133.2 L150.9,132.7 L151.2,132.2 L151.5,131.7 L151.9,131.2 L152.3,130.7 L152.7,130.3 L153.2,130.0 L153.8,129.6 L154.3,129.4 L154.9,129.3 L155.4,129.3 L156.0,129.5 L156.6,129.7 L157.2,130.0 L157.7,130.3 L158.2,130.6 L158.7,131.0 L159.1,131.4 L159.5,131.8 L159.9,132.3 L160.3,132.7 L160.6,133.2 L161.0,133.7 L161.3,134.2 L161.7,134.7 L162.0,135.2 L162.3,135.7 L162.7,136.2 L163.0,136.7 L163.3,137.2 L163.6,137.7 L163.9,138.2 L164.3,138.7 L164.6,139.3 L164.9,139.8 L165.2,140.3 L165.5,140.8 L165.8,141.3 L166.1,141.9 L166.4,142.4 L166.7,142.9 L167.0,143.4 L167.3,143.9 L167.6,144.4 L167.9,144.9 L168.2,145.5 L168.6,146.0 L168.9,146.5 L169.2,147.0 L169.5,147.5 L169.9,148.0 L170.2,148.5 L170.5,149.0 L170.9,149.5 L171.2,150.0 L171.5,150.5 L171.9,151.0 L172.2,151.5 L172.5,152.0 L172.9,152.5 L173.2,152.9 L173.6,153.4 L173.9,153.9 L174.3,154.4 L174.6,154.9 L175.0,155.4 L175.3,155.9 L175.7,156.4 L176.0,156.8 L176.4,157.3 L176.8,157.8 L177.1,158.3 L177.5,158.7 L177.9,159.2 L178.2,159.7 L178.6,160.2 L179.0,160.6 L179.4,161.1 L179.8,161.5 L180.2,162.0 L180.6,162.4 L181.0,162.9 L181.4,163.3 L181.8,163.8 L182.2,164.2 L182.6,164.6 L183.0,165.1 L183.4,165.5 L183.9,165.9 L184.3,166.4 L184.7,166.8 L185.1,167.2 L185.6,167.6 L186.0,168.0 L186.5,168.4 L186.9,168.8 L187.3,169.2 L187.8,169.6 L188.3,170.0 L188.7,170.4 L189.2,170.8 L189.6,171.2 L190.1,171.5 L190.6,171.9 L191.1,172.3 L191.5,172.6 L192.0,173.0 L192.5,173.4 L193.0,173.7 L193.5,174.1 L194.0,174.4 L194.5,174.7 L195.0,175.1 L195.5,175.4 L196.0,175.7 L196.5,176.0 L197.0,176.3 L197.5,176.7 L198.0,177.0 L198.5,177.3 L199.1,177.6 L199.6,177.9 L200.1,178.2 L200.6,178.4 L201.2,178.7 L201.7,179.0 L202.2,179.3 L202.8,179.5 L203.3,179.8 L203.8,180.1 L204.4,180.3 L204.9,180.6 L205.5,180.8 L206.0,181.1 L206.6,181.3 L207.1,181.5 L207.7,181.8 L208.2,182.0 L208.8,182.3 L209.3,182.5 L209.9,182.8 L210.4,183.0 L211.0,183.3 L211.5,183.5 L212.1,183.7 L212.6,184.0 L213.2,184.2 L213.7,184.5 L214.3,184.7 L214.8,184.9 L215.4,185.2 L215.9,185.4 L216.5,185.6 L217.0,185.9 L217.6,186.1 L218.1,186.3 L218.7,186.6 L219.2,186.8 L219.8,187.1 L220.3,187.3 L220.9,187.5 L221.4,187.8 L222.0,188.0 L222.6,188.3 L223.1,188.5 L223.7,188.7 L224.2,188.9 L224.8,189.1 L225.4,189.3 L225.9,189.5 L226.5,189.6 L227.1,189.8 L227.7,189.9 L228.3,190.0 L228.8,190.1 L229.4,190.3 L230.0,190.4 L230.6,190.5 L231.2,190.6 L231.8,190.7 L232.4,190.9 L233.0,191.0 L233.5,191.2 L234.1,191.3 L234.7,191.5 L235.3,191.6 L235.9,191.8 L236.4,192.0 L237.0,192.1 L237.6,192.3 L238.2,192.5 L238.7,192.6 L239.3,192.8 L239.9,193.0 L240.5,193.2 L241.0,193.3 L241.6,193.5 L242.2,193.7 L242.8,193.8 L243.3,194.0 L243.9,194.1 L244.5,194.3 L245.1,194.4 L245.7,194.6 L246.2,194.7 L246.8,194.9 L247.4,195.0 L248.0,195.2 L248.6,195.3 L249.2,195.4 L249.8,195.6 L250.3,195.7 L250.9,195.8 L251.5,196.0 L252.1,196.1 L252.7,196.2 L253.3,196.4 L253.9,196.5 L254.4,196.6 L255.0,196.7 L255.6,196.8 L256.2,196.9 L256.8,197.1 L257.4,197.2 L258.0,197.3 L258.6,197.4 L259.2,197.5 L259.7,197.6 L260.3,197.7 L260.9,197.8 L261.5,197.8 L262.1,197.9 L262.7,198.0 L263.3,198.1 L263.9,198.2 L264.5,198.3 L265.1,198.4 L265.7,198.5 L266.3,198.5 L266.9,198.6 L267.5,198.7 L268.1,198.8 L268.7,198.9 L269.3,198.9 L269.8,199.0 L270.4,199.1 L271.0,199.2 L271.6,199.3 L272.2,199.3 L272.8,199.4 L273.4,199.5 L274.0,199.6 L274.6,199.6 L275.2,199.7 L275.8,199.8 L276.4,199.9 L277.0,199.9 L277.6,200.0 L278.2,200.1 L278.8,200.2 L279.4,200.2 L280.0,200.3 L280.6,200.4 L281.2,200.5 L281.8,200.5 L282.3,200.6 L282.9,200.7 L283.5,200.8 L284.1,200.8 L284.7,200.9 L285.3,201.0 L285.9,201.0 L286.5,201.1 L287.1,201.2 L287.7,201.3 L288.3,201.3 L288.9,201.4 L289.5,201.5 L290.1,201.5 L290.7,201.6 L291.3,201.7 L291.9,201.7 L292.5,201.8 L293.1,201.9 L293.7,201.9 L294.3,202.0 L294.9,202.1 L295.5,202.1 L296.1,202.2 L296.7,202.3 L297.3,202.3 L297.8,202.4 L298.4,202.4 L299.0,202.5 L299.6,202.6 L300.2,202.6 L300.8,202.7 L301.4,202.8 L302.0,202.8 L302.6,202.9 L303.2,202.9 L303.8,203.0 L304.4,203.1 L305.0,203.1 L305.6,203.2 L306.2,203.2 L306.8,203.3 L307.4,203.4 L308.0,203.4 L308.6,203.5 L309.2,203.5 L309.8,203.6 L310.4,203.6 L311.0,203.7 L311.6,203.8 L312.2,203.8 L312.8,203.9 L313.4,203.9 L314.0,204.0 L314.6,204.0 L315.2,204.1 L315.8,204.1 L316.4,204.2 L317.0,204.3 L317.6,204.3 L318.2,204.4 L318.7,204.4 L319.3,204.5 L319.9,204.5 L320.5,204.6 L321.1,204.6 L321.7,204.7 L322.3,204.7 L322.9,204.8 L323.5,204.9 L324.1,204.9 L324.7,205.0 L325.3,205.0 L325.9,205.1 L326.5,205.1 L327.1,205.2 L327.7,205.2 L328.3,205.3 L328.9,205.3 L329.5,205.4 L330.1,205.4 L330.7,205.5 L331.3,205.6 L331.9,205.6 L332.5,205.7 L333.1,205.7 L333.7,205.8 L334.3,205.8 L334.9,205.9 L335.5,205.9 L336.1,206.0 L336.7,206.0 L337.3,206.1 L337.9,206.1 L338.5,206.2 L339.1,206.2 L339.7,206.3 L340.3,206.3 L340.9,206.4 L341.5,206.4 L342.1,206.5 L342.7,206.5 L343.3,206.6 L343.8,206.7 L344.4,206.7 L345.0,206.8 L345.6,206.8 L346.2,206.9 L346.8,206.9 L347.4,207.0 L348.0,207.0 L348.6,207.1 L349.2,207.2 L349.8,207.2 L350.4,207.3 L351.0,207.3 L351.6,207.4 L352.2,207.4 L352.8,207.5 L353.4,207.5 L354.0,207.6 L354.6,207.6 L355.2,207.7 L355.8,207.7 L356.4,207.8 L357.0,207.8 L357.6,207.9 L358.2,207.9 L358.8,207.9 L359.4,208.0 L360.0,208.0 L360.6,208.1 L361.2,208.1 L361.8,208.2 L362.4,208.2 L363.0,208.3 L363.6,208.3 L364.2,208.3 L364.8,208.4 L365.4,208.4 L366.0,208.5 L366.6,208.5 L367.2,208.5 L367.8,208.6 L368.4,208.6 L369.0,208.6 L369.6,208.7 L370.2,208.7 L370.8,208.8 L371.4,208.8 L372.0,208.8 L372.6,208.9 L373.2,208.9 L373.8,208.9 L374.4,209.0 L375.0,209.0 L375.6,209.0 L376.2,209.1 L376.8,209.1 L377.4,209.1 L378.0,209.2 L378.6,209.2 L379.2,209.2 L379.8,209.3 L380.4,209.3 L380.9,209.3 L381.5,209.4 L382.1,209.4 L382.7,209.4 L383.3,209.5 L383.9,209.5 L384.5,209.5 L385.1,209.5 L385.7,209.6 L386.3,209.6 L386.9,209.6 L387.5,209.6 L388.1,209.7 L388.7,209.7 L388.9,209.7" stroke="#0000ff" stroke-width="1.2999999999999998" fill="none"/>
<g stroke="#ff4d94" fill="none"><path stroke-width="1.2" d="M138.97,135.70 V149.70"/><path stroke-width="1.3" d="M136.97,135.70 H140.97 M136.97,149.70 H140.97"/><circle stroke-width="1.3" cx="138.97" cy="142.7" r="1.75"/></g>
<g stroke="#ff4d94" fill="none"><path stroke-width="1.2" d="M201.8,168.60 V176.20"/><path stroke-width="1.3" d="M199.8,168.60 H203.8 M199.8,176.20 H203.8"/><circle stroke-width="1.3" cx="201.8" cy="172.4" r="1.75"/></g>
<g stroke="#ff4d94" fill="none"><path stroke-width="1.2" d="M264.5,191.30 V195.70"/><path stroke-width="1.3" d="M262.5,191.30 H266.5 M262.5,195.70 H266.5"/><circle stroke-width="1.3" cx="264.5" cy="193.5" r="1.75"/></g>
<g stroke="#ff4d94" fill="none"><path stroke-width="1.2" d="M327.3,201.40 V204.00"/><path stroke-width="1.3" d="M325.3,201.40 H329.3 M325.3,204.00 H329.3"/><circle stroke-width="1.3" cx="327.3" cy="202.7" r="1.75"/></g>
<g stroke="#ff0000" fill="none"><path stroke-width="1.2" d="M138.97,131.30 V149.10"/><path stroke-width="1.3" d="M136.97,131.30 H140.97 M136.97,149.10 H140.97"/><circle stroke-width="1.3" cx="138.97" cy="140.2" r="1.75"/></g>
<g stroke="#ff0000" fill="none"><path stroke-width="1.2" d="M201.85,153.80 V163.40"/><path stroke-width="1.3" d="M199.85,153.80 H203.85 M199.85,163.40 H203.85"/><circle stroke-width="1.3" cx="201.85" cy="158.6" r="1.75"/></g>
<g stroke="#ff0000" fill="none"><path stroke-width="1.2" d="M264.5,179.40 V185.40"/><path stroke-width="1.3" d="M262.5,179.40 H266.5 M262.5,185.40 H266.5"/><circle stroke-width="1.3" cx="264.5" cy="182.4" r="1.75"/></g>
<g stroke="#ff0000" fill="none"><path stroke-width="1.2" d="M327.3,194.65 V197.65"/><path stroke-width="1.3" d="M325.3,194.65 H329.3 M325.3,197.65 H329.3"/><circle stroke-width="1.3" cx="327.3" cy="196.15" r="1.75"/></g>
<g stroke="#a066ff" fill="none"><path stroke-width="1.2" d="M138.97,144.70 V157.70"/><path stroke-width="1.3" d="M136.97,144.70 H140.97 M136.97,157.70 H140.97"/><circle stroke-width="1.3" cx="138.97" cy="151.2" r="1.75"/></g>
<g stroke="#a066ff" fill="none"><path stroke-width="1.2" d="M201.8,173.10 V178.70"/><path stroke-width="1.3" d="M199.8,173.10 H203.8 M199.8,178.70 H203.8"/><circle stroke-width="1.3" cx="201.8" cy="175.9" r="1.75"/></g>
<g stroke="#a066ff" fill="none"><path stroke-width="1.2" d="M264.5,193.90 V197.50"/><path stroke-width="1.3" d="M262.5,193.90 H266.5 M262.5,197.50 H266.5"/><circle stroke-width="1.3" cx="264.5" cy="195.7" r="1.75"/></g>
<g stroke="#a066ff" fill="none"><path stroke-width="1.2" d="M327.3,202.80 V205.20"/><path stroke-width="1.3" d="M325.3,202.80 H329.3 M325.3,205.20 H329.3"/><circle stroke-width="1.3" cx="327.3" cy="204.0" r="1.75"/></g>
<g stroke="#0000ff" fill="none"><path stroke-width="1.2" d="M138.97,154.10 V160.70"/><path stroke-width="1.3" d="M136.97,154.10 H140.97 M136.97,160.70 H140.97"/><circle stroke-width="1.3" cx="138.97" cy="157.4" r="1.75"/></g>
<g stroke="#0000ff" fill="none"><path stroke-width="1.2" d="M201.8,175.90 V180.90"/><path stroke-width="1.3" d="M199.8,175.90 H203.8 M199.8,180.90 H203.8"/><circle stroke-width="1.3" cx="201.8" cy="178.4" r="1.75"/></g>
<g stroke="#0000ff" fill="none"><path stroke-width="1.2" d="M264.5,195.90 V200.50"/><path stroke-width="1.3" d="M262.5,195.90 H266.5 M262.5,200.50 H266.5"/><circle stroke-width="1.3" cx="264.5" cy="198.2" r="1.75"/></g>
<g stroke="#0000ff" fill="none"><path stroke-width="1.2" d="M327.3,204.00 V206.40"/><path stroke-width="1.3" d="M325.3,204.00 H329.3 M325.3,206.40 H329.3"/><circle stroke-width="1.3" cx="327.3" cy="205.2" r="1.75"/></g>
<rect x="76" y="13.6" width="314" height="232.8" fill="none" stroke="#000" stroke-width="2.25"/>
<path d="M77,200.14 h2.8 M389,200.14 h-2.8 M77,153.58 h2.8 M389,153.58 h-2.8 M77,107.02 h2.8 M389,107.02 h-2.8 M77,60.46 h2.8 M389,60.46 h-2.8 M154.50,245.4 v-2.5 M154.50,14.6 v3.2 M233.00,245.4 v-2.5 M233.00,14.6 v3.2 M311.50,245.4 v-2.5 M311.50,14.6 v3.2" stroke="#000" stroke-opacity="0.75" stroke-width="1.25" fill="none"/>
<text transform="translate(67.7,251.40) scale(0.95,1)" font-size="14" text-anchor="end">0.15</text>
<text transform="translate(67.7,204.84) scale(0.95,1)" font-size="14" text-anchor="end">0.2</text>
<text transform="translate(67.7,158.28) scale(0.95,1)" font-size="14" text-anchor="end">0.25</text>
<text transform="translate(67.7,111.72) scale(0.95,1)" font-size="14" text-anchor="end">0.3</text>
<text transform="translate(67.7,65.16) scale(0.95,1)" font-size="14" text-anchor="end">0.35</text>
<text transform="translate(67.7,18.60) scale(0.95,1)" font-size="14" text-anchor="end">0.4</text>
<text transform="translate(78.10,265) scale(0.95,1)" font-size="14" text-anchor="middle">0</text>
<text transform="translate(156.60,265) scale(0.95,1)" font-size="14" text-anchor="middle">0.5</text>
<text transform="translate(235.10,265) scale(0.95,1)" font-size="14" text-anchor="middle">1</text>
<text transform="translate(313.60,265) scale(0.95,1)" font-size="14" text-anchor="middle">1.5</text>
<text transform="translate(392.10,265) scale(0.95,1)" font-size="14" text-anchor="middle">2</text>
<text transform="translate(328.4,29.06) scale(0.95,1)" font-size="14" text-anchor="end">BO</text>
<path d="M336.5,24.26 H373.7" stroke="#000" stroke-opacity="0.85" stroke-width="1.15" stroke-dasharray="0.85 1.22"/>
<text transform="translate(328.4,42.93) scale(0.95,1)" font-size="14" text-anchor="end">T=1</text>
<path d="M336.6,38.13 H373.7" stroke="#ff0000" stroke-opacity="0.95" stroke-width="1.4"/>
<text transform="translate(328.4,56.80) scale(0.95,1)" font-size="14" text-anchor="end">T=2</text>
<path d="M336.6,52.00 H373.7" stroke="#ff4d94" stroke-opacity="0.8" stroke-width="1.4"/>
<text transform="translate(328.4,70.67) scale(0.95,1)" font-size="14" text-anchor="end">T=5</text>
<path d="M336.6,65.87 H373.7" stroke="#a066ff" stroke-opacity="0.9" stroke-width="1.4"/>
<text transform="translate(328.4,84.54) scale(0.95,1)" font-size="14" text-anchor="end">T=10</text>
<path d="M336.6,79.74 H373.7" stroke="#0000ff" stroke-opacity="0.8" stroke-width="1.4"/>
<g transform="translate(16.3,136.8) rotate(-90)"><text transform="scale(1,0.85)" x="0" y="0" font-size="14">ε</text><text x="6.2" y="4.6" font-size="11">g</text></g>
</svg>
</body></html>
